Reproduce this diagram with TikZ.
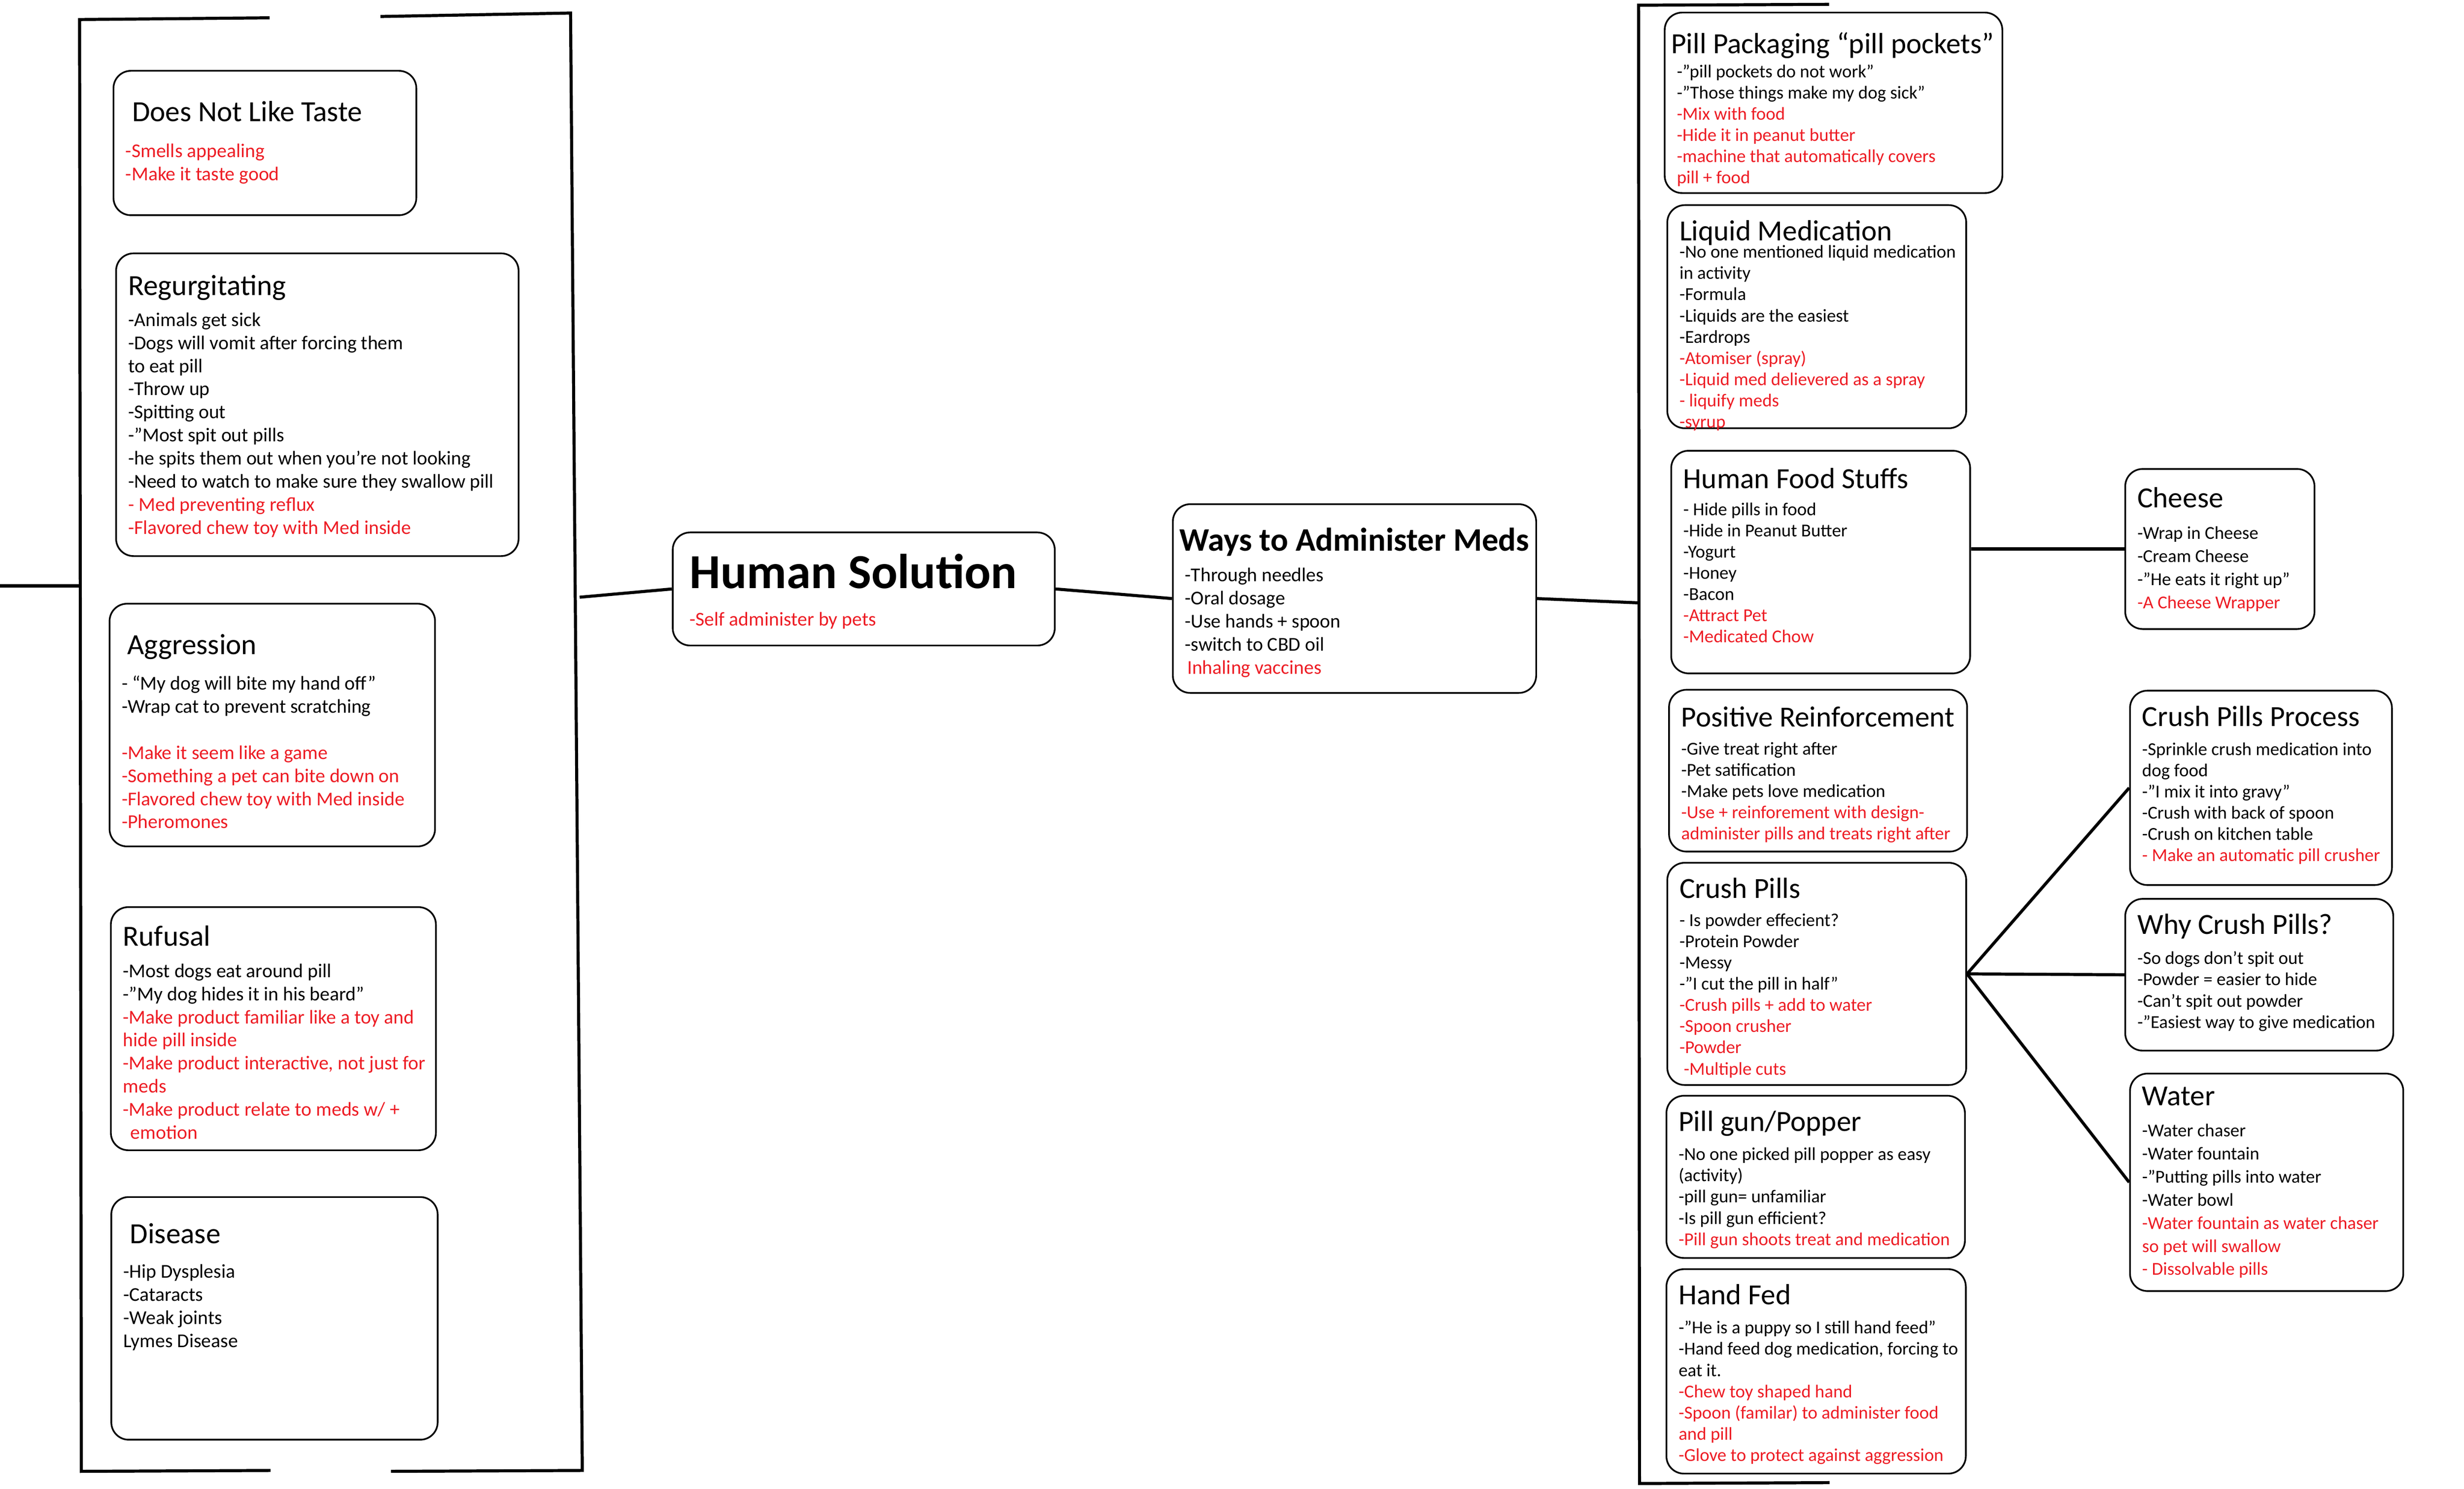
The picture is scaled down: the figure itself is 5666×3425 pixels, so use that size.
\documentclass[tikz,border=0pt]{standalone}
\usepackage{fontspec}
\setmainfont{Carlito}
\usepackage{tikz}

\definecolor{ideared}{RGB}{237,28,36}
\newcommand{\idea}[1]{\textcolor{ideared}{#1}}
\newcommand{\headfont}{\fontsize{19.1pt}{22pt}\selectfont}
\newcommand{\cardhead}[3][0pt]{\vspace*{#1}\mbox{\headfont #2}\par\vspace{#3}}
\newcommand{\cardlines}[1]{\begin{tabular}[t]{@{}l@{}}#1\end{tabular}}
\newcommand{\cardbox}[3]{\begin{minipage}[t][\dimexpr #2cm-0.7cm\relax][t]{\dimexpr #1cm-0.56cm\relax}#3\end{minipage}}

\begin{document}
\begin{tikzpicture}[x=0.01cm,y=-0.01cm,
        card/.style={draw,rounded corners=0.4cm,line width=1.1pt,anchor=north west,
            inner xsep=0.28cm,inner ysep=0.35cm,font=\fontsize{11.9pt}{13.9pt}\selectfont},
        lcard/.style={card,font=\fontsize{12.8pt}{15.1pt}\selectfont},
        link/.style={line width=2pt},
        bracketline/.style={line width=2pt,line join=miter}]
        \useasboundingbox (0,0) rectangle (5666,3425);

        % left bracket: the problems
        \draw [bracketline] (620,41) -- (183,45) -- (187,3385) -- (622,3383);
        \draw [bracketline] (875,38) -- (1312,30) -- (1339,3383) -- (899,3385);

        \node (taste) [lcard] at (259,161) {\cardbox{6.96}{3.32}{%
            \cardhead[0.35cm]{\hspace*{0.15cm}Does Not Like Taste}{0.29cm}
            \cardlines{\idea{-Smells appealing}\\ \idea{-Make it taste good}}}};
        \node (regurg) [lcard] at (265,581) {\cardbox{9.25}{6.96}{%
            \cardhead[0.15cm]{Regurgitating}{0.18cm}
            \cardlines{-Animals get sick\\ -Dogs will vomit after forcing them\\ to eat pill\\
                -Throw up\\ -Spitting out\\ -”Most spit out pills\\
                -he spits them out when you’re not looking\\
                -Need to watch to make sure they swallow pill\\
                \idea{- Med preventing reflux}\\ \idea{-Flavored chew toy with Med inside}}}};
        \node (aggr) [lcard] at (250,1387) {\cardbox{7.48}{5.58}{%
            \cardhead[0.35cm]{\hspace*{0.13cm}Aggression}{0.29cm}
            \cardlines{- “My dog will bite my hand off”\\ -Wrap cat to prevent scratching\\[15.1pt]
                \idea{-Make it seem like a game}\\ \idea{-Something a pet can bite down on}\\
                \idea{-Flavored chew toy with Med inside}\\ \idea{-Pheromones}}}};
        \node (refusal) [lcard] at (253,2085) {\cardbox{7.47}{5.59}{%
            \cardhead[0.08cm]{Rufusal}{0.19cm}
            \cardlines{-Most dogs eat around pill\\ -”My dog hides it in his beard”\\
                \idea{-Make product familiar like a toy and}\\ \idea{hide pill inside}\\
                \idea{-Make product interactive, not just for}\\ \idea{meds}\\
                \idea{-Make product relate to meds w/ +}\\ \idea{\hspace*{0.17cm}emotion}}}};
        \node (disease) [lcard] at (254,2752) {\cardbox{7.50}{5.58}{%
            \cardhead[0.26cm]{\hspace*{0.15cm}Disease}{0.26cm}
            \cardlines{-Hip Dysplesia\\ -Cataracts\\ -Weak joints\\ Lymes Disease}}};

        % middle
        \node (human) [lcard] at (1545,1223) {\cardbox{8.78}{2.60}{%
            \cardhead[0.15cm]{\hspace*{0.11cm}\bfseries\fontsize{32pt}{36pt}\selectfont Human Solution}{0.33cm}
            \cardlines{\idea{\hspace*{0.11cm}-Self administer by pets}}}};
        \node (ways) [lcard] at (2695,1158) {\cardbox{8.35}{4.34}{%
            \cardhead[0.2cm]{\hspace*{-0.13cm}\bfseries\fontsize{21.5pt}{24pt}\selectfont Ways to Administer Meds}{0.17cm}
            \cardlines{-Through needles\\ -Oral dosage\\ -Use hands + spoon\\ -switch to CBD oil\\
                \idea{\hspace*{0.05cm}Inhaling vaccines}}}};

        % right bracket: the methods
        \draw [bracketline] (4206,10) -- (3768,12) -- (3770,3413) -- (4207,3411);

        \node (pockets) [card] at (3826,27) {\cardbox{7.76}{4.15}{%
            \cardhead[0.10cm]{\hspace*{-0.13cm}Pill Packaging “pill pockets”}{0.07cm}
            \cardlines{-”pill pockets do not work”\\ -”Those things make my dog sick”\\
                \idea{-Mix with food}\\ \idea{-Hide it in peanut butter}\\
                \idea{-machine that automatically covers}\\ \idea{pill + food}}}};
        \node (liquid) [card] at (3832,470) {\cardbox{6.87}{5.13}{%
            \cardhead{Liquid Medication}{-0.09cm}
            \cardlines{-No one mentioned liquid medication\\ in activity\\ -Formula\\
                -Liquids are the easiest\\ -Eardrops\\ \idea{-Atomiser (spray)}\\
                \idea{-Liquid med delievered as a spray}\\ \idea{- liquify meds}\\ \idea{-syrup}}}};
        \node (food) [card] at (3841,1035) {\cardbox{6.87}{5.12}{%
            \cardhead[0.05cm]{Human Food Stuffs}{0.13cm}
            \cardlines{- Hide pills in food\\ -Hide in Peanut Butter\\ -Yogurt\\ -Honey\\ -Bacon\\
                \idea{-Attract Pet}\\ \idea{-Medicated Chow}}}};
        \node (reinf) [card] at (3836,1585) {\cardbox{6.85}{3.72}{%
            \cardhead[0.04cm]{Positive Reinforcement}{0.15cm}
            \cardlines{-Give treat right after\\ -Pet satification\\ -Make pets love medication\\
                \idea{-Use + reinforement with design-}\\ \idea{administer pills and treats right after}}}};
        \node (crush) [card] at (3832,1983) {\cardbox{6.87}{5.11}{%
            \cardhead{Crush Pills}{0.15cm}
            \cardlines{- Is powder effecient?\\ -Protein Powder\\ -Messy\\ -”I cut the pill in half”\\
                \idea{-Crush pills + add to water}\\ \idea{-Spoon crusher}\\ \idea{-Powder}\\
                \idea{\hspace*{0.1cm}-Multiple cuts}}}};
        \node (gun) [card] at (3830,2519) {\cardbox{6.86}{3.73}{%
            \cardhead{Pill gun/Popper}{0.18cm}
            \cardlines{-No one picked pill popper as easy\\ (activity)\\ -pill gun= unfamiliar\\
                -Is pill gun efficient?\\ \idea{-Pill gun shoots treat and medication}}}};
        \node (hand) [card] at (3830,2918) {\cardbox{6.88}{4.70}{%
            \cardhead{Hand Fed}{0.18cm}
            \cardlines{-”He is a puppy so I still hand feed”\\ -Hand feed dog medication, forcing to\\
                eat it.\\ \idea{-Chew toy shaped hand}\\ \idea{-Spoon (familar) to administer food}\\
                \idea{and pill}\\ \idea{-Glove to protect against aggression}}}};

        % far right
        \node (cheese) [card,font=\fontsize{11.9pt}{15.1pt}\selectfont] at (4885,1077) {\cardbox{4.35}{3.68}{%
            \cardhead[0.07cm]{Cheese}{0.2cm}
            \cardlines{-Wrap in Cheese\\ -Cream Cheese\\ -”He eats it right up”\\
                \idea{-A Cheese Wrapper}}}};
        \node (process) [card] at (4896,1587) {\cardbox{6.02}{4.47}{%
            \cardhead{Crush Pills Process}{0.18cm}
            \cardlines{-Sprinkle crush medication into\\ dog food\\ -”I mix it into gravy”\\
                -Crush with back of spoon\\ -Crush on kitchen table\\
                \idea{- Make an automatic pill crusher}}}};
        \node (why) [card] at (4885,2066) {\cardbox{6.16}{3.49}{%
            \cardhead{Why Crush Pills?}{0.2cm}
            \cardlines{-So dogs don’t spit out\\ -Powder = easier to hide\\ -Can’t spit out powder\\
                -”Easiest way to give medication}}};
        \node (water) [card,font=\fontsize{11.9pt}{15.1pt}\selectfont] at (4896,2468) {\cardbox{6.28}{5.00}{%
            \cardhead[-0.05cm]{Water}{0.19cm}
            \cardlines{-Water chaser\\ -Water fountain\\ -”Putting pills into water\\ -Water bowl\\
                \idea{-Water fountain as water chaser}\\ \idea{so pet will swallow}\\
                \idea{- Dissolvable pills}}}};

        % connectors
        \coordinate (edge) at (0,1348);
        \coordinate (lb-left) at (185,1348);
        \coordinate (lb-right) at (1333,1374);
        \coordinate (rb-left) at (3769,1387);
        \draw [link] (edge) -- (lb-left);
        \draw [link] (lb-right) -- (human.west);
        \draw [link] (human.east) -- (ways.west);
        \draw [link] (ways.east) -- (rb-left);
        \draw [link] (food.east |- cheese.west) -- (cheese.west);
        \draw [link] (crush.east) -- (process.west);
        \draw [link] (crush.east) -- (why.west);
        \draw [link] (crush.east) -- (water.west);
    \end{tikzpicture}
\end{document}
